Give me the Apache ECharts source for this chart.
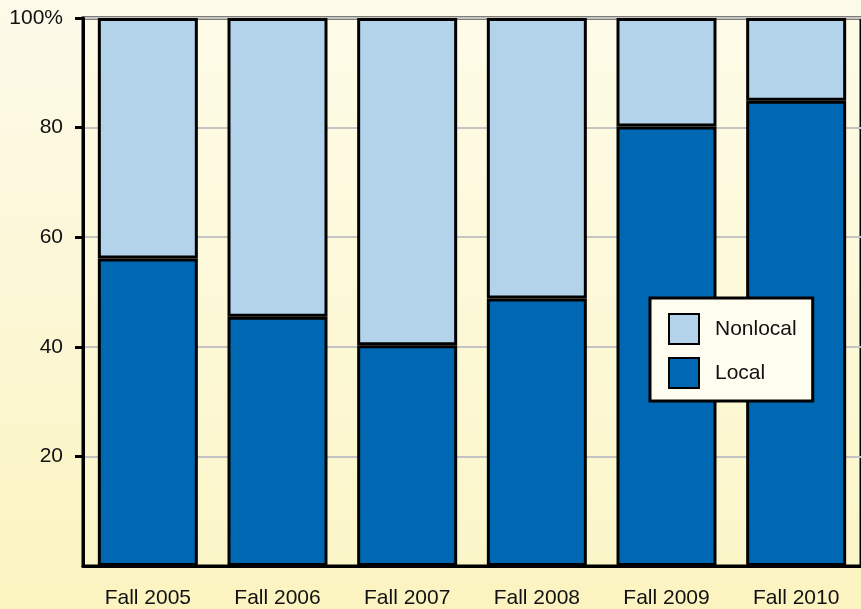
<!DOCTYPE html>
<html>
<head>
<meta charset="utf-8">
<script src="https://cdn.jsdelivr.net/npm/echarts@6/dist/echarts.min.js"></script>
<style>
html, body { margin: 0; padding: 0; }
#chart { width: 861px; height: 609px; }
</style>
</head>
<body>
<div id="chart"></div>
<script>
var terms = ['Fall 2005', 'Fall 2006', 'Fall 2007', 'Fall 2008', 'Fall 2009', 'Fall 2010'];
var local = [56.1, 45.5, 40.3, 48.8, 80.2, 84.9];
var nonlocal = [43.9, 54.5, 59.7, 51.2, 19.8, 15.1];
var yTicks = [20, 40, 60, 80, 100];

var myChart = echarts.init(document.getElementById('chart'));

var option = {
    backgroundColor: new echarts.graphic.LinearGradient(0, 0, 0, 1, [
        { offset: 0, color: '#fdfaea' },
        { offset: 1, color: '#fbf4c0' }
    ]),
    animation: false,
    grid: {
        left: 83,
        top: 18,
        bottom: 42,
        right: -3,
        show: true,
        borderColor: '#000',
        borderWidth: 3,
        backgroundColor: new echarts.graphic.LinearGradient(0, 0, 0, 1, [
            { offset: 0, color: '#fefbe8' },
            { offset: 1, color: '#fbf6c8' }
        ])
    },
    legend: {
        data: ['Nonlocal', 'Local'],
        orient: 'vertical',
        left: 650,
        top: 298,
        padding: [15, 16, 12, 18],
        backgroundColor: '#fefdf0',
        borderColor: '#000',
        borderWidth: 3,
        icon: 'rect',
        itemWidth: 30,
        itemHeight: 30,
        itemGap: 12,
        textStyle: { fontFamily: 'Liberation Sans', fontSize: 21, color: '#111', padding: [0, 0, 0, 11] }
    },
    xAxis: {
        type: 'category',
        data: terms,
        axisLine: { lineStyle: { color: '#000', width: 3 } },
        axisTick: { show: false },
        axisLabel: { fontFamily: 'Liberation Sans', fontSize: 21, color: '#111', margin: 22 }
    },
    yAxis: {
        type: 'value',
        min: 0,
        max: 100,
        interval: 20,
        axisLine: { show: true, lineStyle: { color: '#000', width: 3 } },
        axisTick: { show: true, length: 8, customValues: yTicks, lineStyle: { color: '#000', width: 3 } },
        axisLabel: {
            fontFamily: 'Liberation Sans', fontSize: 21, color: '#111', margin: 20,
            customValues: yTicks,
            formatter: function (v) {
                return v === 100 ? '100%' : String(v);
            }
        },
        splitLine: { show: true, lineStyle: { color: '#c4c4c4', width: 2 } }
    },
    series: [
        {
            name: 'Local',
            type: 'bar',
            stack: 'all',
            barWidth: 100,
            data: local,
            itemStyle: { color: '#0068b3', borderColor: '#000', borderWidth: 3 }
        },
        {
            name: 'Nonlocal',
            type: 'bar',
            stack: 'all',
            barWidth: 100,
            data: nonlocal,
            itemStyle: { color: '#b3d3ea', borderColor: '#000', borderWidth: 3 }
        }
    ]
};

myChart.setOption(option);
</script>
</body>
</html>
